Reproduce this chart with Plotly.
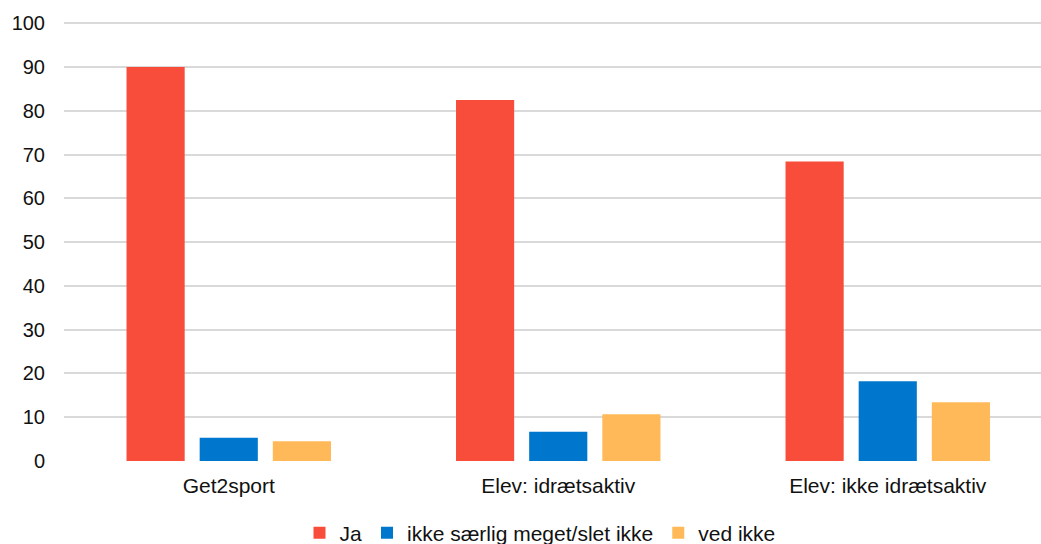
import plotly.graph_objects as go

categories = ["Get2sport", "Elev: idrætsaktiv", "Elev: ikke idrætsaktiv"]
series_names = ["Ja", "ikke særlig meget/slet ikke", "ved ikke"]
ja_values = [90.0, 82.5, 68.4]
ikke_values = [5.3, 6.7, 18.2]
ved_ikke_values = [4.5, 10.7, 13.4]
y_ticks = [0, 10, 20, 30, 40, 50, 60, 70, 80, 90, 100]

colors = ["#f84d3b", "#0077cc", "#ffb959"]
FONT = "Liberation Sans, Arial, sans-serif"

fig = go.Figure()
for name, vals, col in zip(series_names, [ja_values, ikke_values, ved_ikke_values], colors):
    fig.add_trace(go.Bar(name=name, x=categories, y=vals, marker=dict(color=col, line=dict(width=0))))

W, H = 1041, 544
ml, mr, mt, mb = 64, 0, 22, 83
plot_w = W - ml - mr
plot_h = H - mt - mb
band = 329.5
x_hi = -0.5 + plot_w / band

fig.update_layout(
    width=W, height=H,
    margin=dict(l=ml, r=mr, t=mt, b=mb, pad=0, autoexpand=False),
    paper_bgcolor="white", plot_bgcolor="white",
    barmode="group", bargap=0.334, bargroupgap=0.205,
    font=dict(family=FONT, size=20, color="#111111"),
    showlegend=True,
    legend=dict(orientation="h", x=(540 - ml) / plot_w, xanchor="center",
                y=-(533 - (H - mb)) / plot_h, yanchor="middle",
                font=dict(size=21, family=FONT, color="#111111"),
                itemwidth=30, traceorder="normal", bgcolor="rgba(0,0,0,0)"),
    xaxis=dict(type="category", range=[-0.5, x_hi], showgrid=False, showline=False,
               ticks="", tickfont=dict(size=21), ticklabelstandoff=10, zeroline=False,
               automargin=False),
    yaxis=dict(range=[0, 100.3], tickvals=y_ticks, showgrid=True, gridcolor="#d9d9d9",
               gridwidth=1.5, zeroline=False, showline=False, ticks="",
               tickfont=dict(size=20), ticklabelstandoff=18, automargin=False),
)

fig.write_html("out.html", config={"displayModeBar": False},
               post_script="document.body.style.margin='0';document.body.style.overflow='hidden';")
